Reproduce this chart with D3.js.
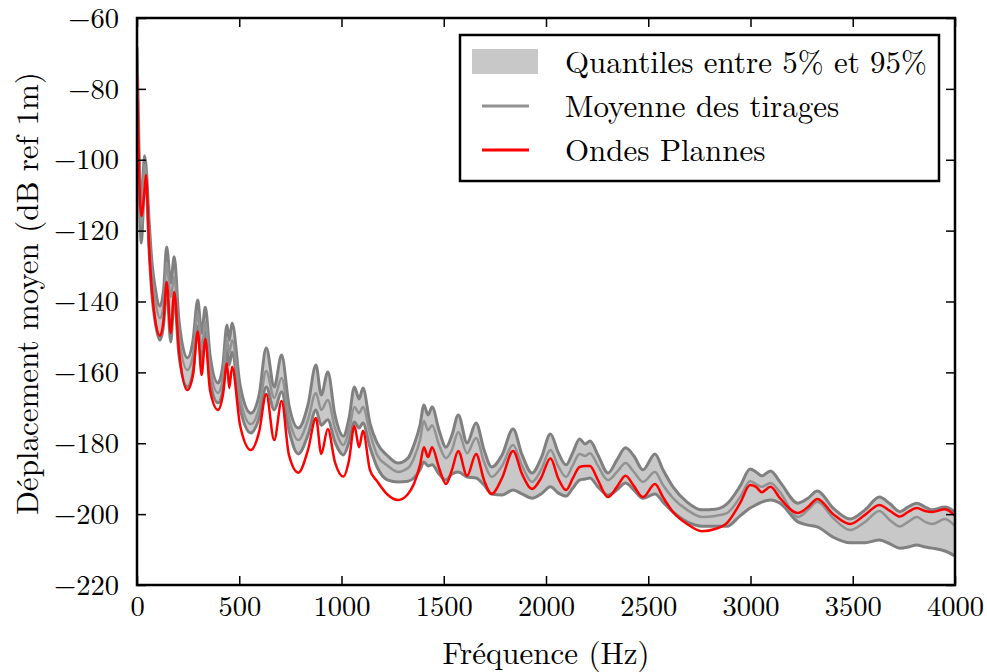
<!DOCTYPE html>
<html lang="fr">
<head>
<meta charset="UTF-8">
<title>Déplacement moyen</title>
<style>
  body { margin: 0; background: #fff; }
</style>
</head>
<body>
<svg id="chart" width="987" height="672"></svg>
<script src="https://d3js.org/d3.v7.min.js"></script>
<script>
// Frequencies (Hz) and series values (dB ref 1m)
const freq = [0, 10, 21, 37, 44, 59, 73, 89, 112, 130, 145, 165, 182, 205, 246, 274, 297, 316, 334, 357,
  396, 420, 440, 451, 465, 504, 557, 597, 632, 671, 707, 743, 789, 836, 875, 901, 933, 968, 1009, 1037,
  1063, 1086, 1105, 1139, 1174, 1227, 1276, 1325, 1354, 1384, 1403, 1423, 1443, 1477, 1511, 1540, 1571, 1614, 1658, 1697,
  1734, 1785, 1839, 1883, 1932, 1976, 2022, 2059, 2098, 2132, 2164, 2191, 2215, 2254, 2303, 2347, 2389, 2430, 2474, 2533,
  2572, 2621, 2690, 2763, 2827, 2885, 2949, 2998, 3027, 3055, 3098, 3144, 3232, 3281, 3327, 3404, 3487, 3560, 3630, 3682,
  3731, 3770, 3813, 3854, 3888, 3951, 4000];

const q95 = [-68.2, -97.2, -113.6, -98.9, -101.5, -117.0, -128.9, -136.2, -141.3, -136.8, -124.6, -134.8, -127.4, -145.2, -155.9, -150.9, -139.6, -148.9, -141.6, -155.1,
  -163.0, -157.9, -146.6, -150.9, -146.1, -163.6, -171.5, -166.4, -153.1, -164.1, -155.1, -169.2, -175.7, -169.2, -157.9, -166.4, -159.9, -172.0, -178.0, -172.9,
  -164.1, -167.5, -164.4, -174.3, -179.9, -183.6, -185.6, -184.2, -180.5, -174.9, -169.2, -172.0, -169.8, -176.3, -181.1, -177.7, -172.0, -179.9, -174.3, -181.9,
  -186.7, -183.3, -176.0, -183.3, -188.4, -184.2, -177.4, -182.5, -186.1, -182.5, -178.8, -180.2, -179.4, -183.3, -188.4, -184.7, -181.3, -183.6, -187.5, -183.0,
  -187.5, -192.3, -196.6, -198.8, -198.6, -197.1, -192.1, -187.3, -188.1, -189.2, -187.8, -190.9, -196.9, -195.5, -193.5, -198.3, -201.4, -198.8, -195.2, -197.1,
  -199.3, -198.0, -196.9, -198.0, -198.8, -198.0, -199.4];

const q05 = [-74.7, -105.7, -123.5, -107.1, -106.3, -125.5, -138.2, -145.8, -150.9, -146.6, -136.2, -151.4, -139.0, -155.1, -164.1, -159.9, -146.9, -157.1, -148.6, -162.2,
  -168.6, -165.0, -153.7, -157.9, -154.3, -170.1, -177.1, -172.9, -164.1, -170.6, -165.5, -176.3, -183.0, -177.7, -170.6, -174.9, -173.4, -179.6, -183.3, -179.6,
  -174.0, -175.7, -174.3, -181.1, -186.7, -190.4, -190.9, -190.7, -189.8, -187.5, -185.3, -186.4, -186.1, -188.7, -190.4, -188.7, -188.1, -189.5, -189.8, -191.8,
  -194.3, -194.6, -193.2, -194.3, -195.5, -194.3, -192.3, -194.0, -194.9, -192.6, -190.4, -190.1, -189.8, -192.3, -194.6, -193.2, -191.2, -193.2, -195.5, -194.3,
  -196.6, -199.4, -202.2, -203.4, -203.4, -203.4, -200.5, -198.3, -197.4, -196.6, -196.0, -196.9, -202.2, -203.1, -203.6, -206.5, -208.1, -208.1, -207.3, -208.4,
  -209.6, -209.3, -208.7, -209.3, -209.6, -210.4, -211.8];

const moyenne = [-71.3, -101.5, -118.4, -101.5, -103.5, -120.4, -132.5, -139.6, -144.7, -141.0, -129.1, -138.7, -133.1, -149.5, -159.3, -155.1, -143.2, -153.7, -145.8, -158.8,
  -165.8, -161.6, -150.9, -154.5, -150.9, -167.2, -174.6, -170.1, -159.6, -167.2, -161.6, -172.9, -179.1, -173.4, -165.8, -170.6, -167.8, -175.7, -180.5, -176.3,
  -169.8, -171.5, -169.8, -177.1, -183.3, -186.4, -188.1, -187.0, -184.2, -179.1, -173.7, -176.3, -174.9, -180.5, -184.2, -181.9, -176.8, -182.8, -178.5, -185.3,
  -189.5, -186.4, -180.5, -186.4, -190.9, -187.5, -181.9, -186.4, -189.5, -186.1, -183.0, -183.6, -182.8, -186.4, -190.4, -188.1, -185.6, -188.1, -190.9, -188.1,
  -191.8, -195.5, -198.8, -200.8, -200.5, -199.7, -195.2, -190.7, -191.5, -192.3, -191.2, -193.8, -200.8, -198.8, -196.5, -201.1, -204.5, -202.2, -199.1, -201.7,
  -203.5, -202.2, -200.8, -202.2, -202.8, -201.4, -203.4];

const ondesPlanes = [-76.1, -102.9, -115.9, -108.5, -104.3, -124.1, -136.8, -145.2, -149.7, -145.2, -134.5, -148.9, -137.3, -153.7, -165.0, -160.7, -148.5, -160.7, -150.6, -165.0,
  -170.6, -166.4, -157.4, -164.4, -158.4, -174.9, -181.9, -176.8, -166.1, -179.1, -168.1, -183.3, -188.3, -181.9, -172.9, -183.0, -176.0, -185.3, -189.4, -184.7,
  -175.1, -181.1, -176.5, -187.5, -190.7, -194.6, -196.0, -194.3, -191.5, -186.1, -181.1, -183.9, -181.1, -187.0, -191.5, -187.5, -182.2, -189.2, -183.0, -190.4,
  -194.3, -189.8, -182.2, -188.7, -192.9, -189.8, -184.2, -189.8, -193.2, -189.8, -186.7, -186.4, -186.4, -190.4, -195.2, -192.3, -189.2, -192.1, -195.2, -191.5,
  -195.2, -199.4, -202.8, -204.8, -204.2, -202.5, -196.9, -191.8, -192.3, -193.8, -192.3, -195.5, -199.7, -198.0, -195.7, -200.0, -202.8, -200.2, -197.4, -199.1,
  -200.7, -199.4, -198.3, -199.1, -199.4, -198.6, -200.5];

const xTicks = [0, 500, 1000, 1500, 2000, 2500, 3000, 3500, 4000];
const yTicks = [-60, -80, -100, -120, -140, -160, -180, -200, -220];

const legendItems = [
  { label: "Quantiles entre 5% et 95%", type: "patch" },
  { label: "Moyenne des tirages", type: "mean" },
  { label: "Ondes Plannes", type: "red" }
];

const FONT = "Latin Modern Roman, serif";
const TICK_FS = 28.5;
const LABEL_FS = 31;

const margin = { top: 18, right: 32, bottom: 87, left: 137 };
const width = 987 - margin.left - margin.right;
const height = 672 - margin.top - margin.bottom;

const svg = d3.select("#chart");
const g = svg.append("g").attr("transform", `translate(${margin.left},${margin.top})`);

const x = d3.scaleLinear().domain([0, 4000]).range([0, width]);
const y = d3.scaleLinear().domain([-220, -60]).range([height, 0]);

const rows = freq.map((f, i) => ({ f, hi: q95[i], lo: q05[i], mean: moyenne[i], op: ondesPlanes[i] }));

const curve = d3.curveMonotoneX;

g.append("defs").append("clipPath").attr("id", "clip")
  .append("rect").attr("width", width).attr("height", height);

const plot = g.append("g").attr("clip-path", "url(#clip)");

// quantile band
plot.append("path")
  .datum(rows)
  .attr("fill", "#c8c8c8")
  .attr("d", d3.area().curve(curve).x(d => x(d.f)).y0(d => y(d.lo)).y1(d => y(d.hi)));

const line = key => d3.line().curve(curve).x(d => x(d.f)).y(d => y(d[key]));

plot.append("path").datum(rows)
  .attr("fill", "none").attr("stroke", "#808080").attr("stroke-width", 3)
  .attr("stroke-linejoin", "round").attr("d", line("hi"));
plot.append("path").datum(rows)
  .attr("fill", "none").attr("stroke", "#808080").attr("stroke-width", 3)
  .attr("stroke-linejoin", "round").attr("d", line("lo"));
plot.append("path").datum(rows)
  .attr("fill", "none").attr("stroke", "#929292").attr("stroke-width", 2.5)
  .attr("stroke-linejoin", "round").attr("d", line("mean"));
plot.append("path").datum(rows)
  .attr("fill", "none").attr("stroke", "#ff0000").attr("stroke-width", 2.5)
  .attr("stroke-linejoin", "round").attr("d", line("op"));

// axes, ticks pointing inward on all four sides
const fmt = d3.format("d");
const tickLen = 9;

const styleAxis = sel => {
  sel.attr("font-family", FONT).attr("font-size", TICK_FS);
  sel.select(".domain").remove();
  sel.selectAll(".tick line").attr("stroke", "#000").attr("stroke-width", 1.5);
  sel.selectAll(".tick text").attr("fill", "#000");
};

g.append("g").attr("transform", `translate(0,${height})`)
  .call(d3.axisBottom(x).tickValues(xTicks).tickFormat(fmt).tickSizeInner(-tickLen).tickSizeOuter(0).tickPadding(11))
  .call(styleAxis);
g.append("g")
  .call(d3.axisTop(x).tickValues(xTicks).tickFormat("").tickSizeInner(-tickLen).tickSizeOuter(0))
  .call(styleAxis);
g.append("g")
  .call(d3.axisLeft(y).tickValues(yTicks).tickFormat(fmt).tickSizeInner(-tickLen).tickSizeOuter(0).tickPadding(18))
  .call(styleAxis);
g.append("g").attr("transform", `translate(${width},0)`)
  .call(d3.axisRight(y).tickValues(yTicks).tickFormat("").tickSizeInner(-tickLen).tickSizeOuter(0))
  .call(styleAxis);

// frame
g.append("rect")
  .attr("width", width).attr("height", height)
  .attr("fill", "none").attr("stroke", "#000").attr("stroke-width", 2.5);

// axis labels
svg.append("text")
  .attr("x", margin.left + width / 2).attr("y", 664)
  .attr("text-anchor", "middle")
  .attr("font-family", FONT).attr("font-size", LABEL_FS)
  .text("Fréquence (Hz)");

svg.append("text")
  .attr("transform", `translate(38,${margin.top + height / 2 - 8}) rotate(-90)`)
  .attr("text-anchor", "middle")
  .attr("font-family", FONT).attr("font-size", LABEL_FS)
  .text("Déplacement moyen (dB ref 1m)");

// legend
const lg = svg.append("g").attr("transform", "translate(460,35)");
lg.append("rect")
  .attr("width", 479).attr("height", 146)
  .attr("fill", "#fff").attr("stroke", "#000").attr("stroke-width", 2.5);

legendItems.forEach((item, i) => {
  const cy = 27 + i * 44;
  if (item.type === "patch") {
    lg.append("rect").attr("x", 12).attr("y", cy - 13).attr("width", 66).attr("height", 25).attr("fill", "#c8c8c8");
  } else {
    lg.append("line").attr("x1", 22).attr("x2", 69).attr("y1", cy).attr("y2", cy)
      .attr("stroke", item.type === "mean" ? "#929292" : "#ff0000").attr("stroke-width", 3);
  }
  lg.append("text").attr("x", 105).attr("y", cy).attr("dy", "0.35em")
    .attr("font-family", FONT).attr("font-size", LABEL_FS).text(item.label);
});
</script>
</body>
</html>
